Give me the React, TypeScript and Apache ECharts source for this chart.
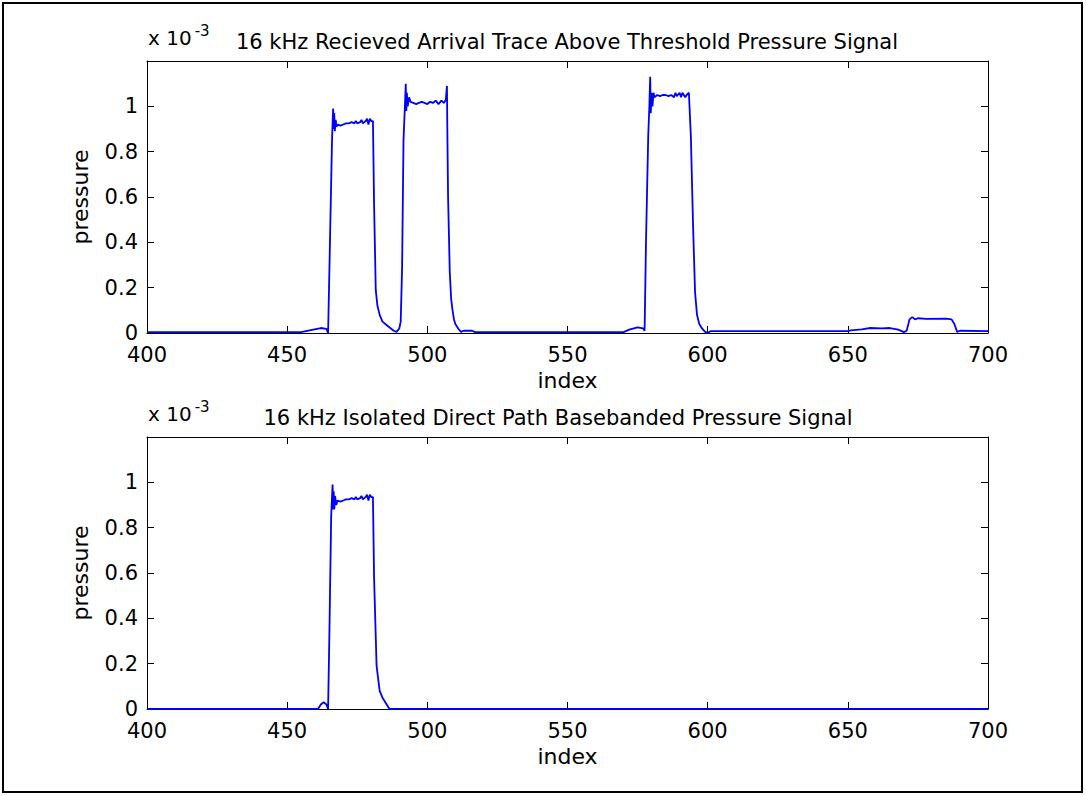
import React, { useEffect, useRef } from "react";
import * as echarts from "echarts";

const xTicks = [400, 450, 500, 550, 600, 650, 700];
const yTicks = [0, 0.2, 0.4, 0.6, 0.8, 1];

const topTitle = "16 kHz Recieved Arrival Trace Above Threshold Pressure Signal";
const bottomTitle = "16 kHz Isolated Direct Path Basebanded Pressure Signal";
const exponentBase = "x 10";
const exponentPower = "-3";

// pressure in units of 1e-3, sample index
const topIndex = [
  400, 455, 458, 462, 464, 464.6, 465.2, 466.0, 466.4, 466.6, 466.8, 467.0, 467.3, 467.6,
  468, 469, 470, 471, 472, 473, 474, 474.5, 475, 476, 476.5, 477, 478, 478.5, 479, 479.5, 480, 480.6,
  481.0, 481.6, 482.2, 483, 484, 485, 486, 487, 488, 489, 490, 490.5, 491.0, 491.5, 492.0, 492.3,
  492.5, 492.7, 493, 493.5, 494, 495, 496, 497, 498, 499, 500, 501, 502, 503, 504, 505, 506, 506.6,
  507.0, 507.1, 507.4, 508.0, 508.5, 509, 509.5, 510, 511, 512, 513, 516, 517,
  570, 572, 575, 577, 577.5, 578.0, 578.8, 579.2, 579.5, 579.7, 580, 580.3, 580.7, 581, 582, 583,
  584, 585, 586, 587, 588, 588.5, 589, 590, 590.5, 591, 592, 592.5, 593.3, 594.0, 594.8, 595.5,
  596.2, 597, 598, 599, 600, 601, 650, 651, 655, 658, 662, 665, 668, 670, 671, 672, 673, 674, 675,
  678, 685, 687, 688, 689, 690, 700,
];
const topPressure = [
  0.004, 0.004, 0.012, 0.022, 0.018, 0.0, 0.36, 0.85, 0.99, 0.9, 0.97, 0.89, 0.94, 0.91,
  0.92, 0.915, 0.92, 0.925, 0.925, 0.93, 0.925, 0.935, 0.925, 0.93, 0.94, 0.925, 0.935, 0.945, 0.92, 0.945, 0.935, 0.935,
  0.57, 0.19, 0.12, 0.08, 0.05, 0.04, 0.03, 0.02, 0.01, 0.005, 0.02, 0.05, 0.29, 0.85, 1.0, 1.1,
  0.98, 1.06, 1.0, 1.04, 1.02, 1.015, 1.01, 1.015, 1.02, 1.015, 1.01, 1.02, 1.015, 1.025, 1.01, 1.025, 1.015, 1.03,
  1.09, 0.94, 0.6, 0.27, 0.15, 0.1, 0.06, 0.04, 0.02, 0.005, 0.01, 0.01, 0.004,
  0.004, 0.015, 0.025, 0.02, 0.01, 0.4, 0.87, 1.0, 1.13, 0.97, 1.06, 1.0, 1.06, 1.04, 1.05, 1.045,
  1.05, 1.05, 1.045, 1.05, 1.04, 1.06, 1.045, 1.06, 1.04, 1.06, 1.04, 1.05, 1.06, 0.87, 0.47, 0.18,
  0.08, 0.04, 0.02, 0.006, 0.0, 0.008, 0.008, 0.012, 0.016, 0.022, 0.02, 0.022, 0.015, 0.004, 0.01, 0.06, 0.07, 0.06, 0.065,
  0.062, 0.063, 0.06, 0.04, 0.005, 0.01, 0.008,
];

const bottomIndex = [
  400, 461, 462, 463, 464, 464.6, 465.1, 465.7, 466.2, 466.4, 466.6, 466.8, 467.1, 467.5,
  468, 469, 470, 471, 472, 473, 474, 474.5, 475, 476, 476.5, 477, 478, 478.5, 479, 479.5, 480, 480.6,
  481.0, 481.9, 482.4, 483, 484, 485, 486.5, 700,
];
const bottomPressure = [
  0, 0, 0.02, 0.03, 0.02, 0, 0.36, 0.85, 0.99, 0.88, 0.96, 0.88, 0.94, 0.9,
  0.92, 0.915, 0.92, 0.925, 0.925, 0.93, 0.925, 0.935, 0.925, 0.93, 0.94, 0.925, 0.935, 0.945, 0.92, 0.945, 0.935, 0.935,
  0.58, 0.19, 0.14, 0.08, 0.05, 0.03, 0, 0,
];

const FONT = "DejaVu Sans";
const TICK_SIZE = 21;
const NAME_SIZE = 22;
const TITLE_SIZE = 21;

export default function App() {
  const ref = useRef<HTMLDivElement>(null);
  useEffect(() => {
    if (!ref.current) return;
    const chart = echarts.init(ref.current, null, { renderer: "svg" });
    const grids = [
      { left: 147, top: 61, width: 841, height: 272 },
      { left: 147, top: 437, width: 841, height: 272 },
    ];
    const xMin = xTicks[0];
    const xMax = xTicks[xTicks.length - 1];
    const xStep = xTicks[1] - xTicks[0];
    const yStep = yTicks[1] - yTicks[0];
    const yMax = 1.2;
    const lineStyle = { color: "#000", width: 1 };
    const xAxes: any[] = [];
    const yAxes: any[] = [];
    grids.forEach((_, g) => {
      xAxes.push({
        type: "value", gridIndex: g, position: "bottom", min: xMin, max: xMax, interval: xStep,
        axisLine: { show: true, lineStyle, onZero: false },
        axisTick: { show: true, inside: true, length: 7, lineStyle },
        axisLabel: { color: "#000", fontFamily: FONT, fontSize: TICK_SIZE, margin: 11, lineHeight: 21 },
        splitLine: { show: false },
        name: "index", nameLocation: "middle", nameGap: 36,
        nameTextStyle: { color: "#000", fontFamily: FONT, fontSize: NAME_SIZE },
      });
      xAxes.push({
        type: "value", gridIndex: g, position: "top", min: xMin, max: xMax, interval: xStep,
        axisLine: { show: true, lineStyle, onZero: false },
        axisTick: { show: true, inside: true, length: 7, lineStyle },
        axisLabel: { show: false }, splitLine: { show: false },
      });
      yAxes.push({
        type: "value", gridIndex: g, position: "left", min: 0, max: yMax, interval: yStep,
        axisLine: { show: true, lineStyle, onZero: false },
        axisTick: { show: true, inside: true, length: 7, lineStyle },
        axisLabel: {
          color: "#000", fontFamily: FONT, fontSize: TICK_SIZE, margin: 9, lineHeight: 14,
          formatter: (v: number) => (yTicks.some((t) => Math.abs(t - v) < 1e-9) ? String(+v.toFixed(1)) : ""),
        },
        splitLine: { show: false },
        name: "pressure", nameLocation: "middle", nameGap: 56, nameRotate: 90,
        nameTextStyle: { color: "#000", fontFamily: FONT, fontSize: NAME_SIZE },
      });
      yAxes.push({
        type: "value", gridIndex: g, position: "right", min: 0, max: yMax, interval: yStep,
        axisLine: { show: true, lineStyle, onZero: false },
        axisTick: { show: true, inside: true, length: 7, lineStyle },
        axisLabel: { show: false }, splitLine: { show: false },
      });
    });
    const mk = (xs: number[], ys: number[]) => xs.map((x, i) => [x, ys[i]]);
    const titleStyle = (text: string, x: number, y: number) => ({
      type: "text", x, y,
      style: { text, font: `${TITLE_SIZE}px "${FONT}"`, fill: "#000", textAlign: "center", textVerticalAlign: "bottom" },
    });
    const expo = (y: number) => ({
      type: "text", x: 148, y,
      style: {
        text: `{a|${exponentBase}}{b|${exponentPower}}`,
        textVerticalAlign: "bottom",
        rich: {
          a: { fontFamily: FONT, fontSize: 20, fill: "#000", color: "#000" },
          b: { fontFamily: FONT, fontSize: 15, fill: "#000", color: "#000", verticalAlign: "top", padding: [0, 0, 14, 3] },
        },
      },
    });
    chart.setOption({
      animation: false,
      backgroundColor: "#fff",
      grid: grids,
      xAxis: xAxes,
      yAxis: yAxes,
      series: [
        {
          type: "line", xAxisIndex: 0, yAxisIndex: 0, data: mk(topIndex, topPressure),
          showSymbol: false, lineStyle: { color: "#0000ff", width: 1.8 }, z: 1,
        },
        {
          type: "line", xAxisIndex: 2, yAxisIndex: 2, data: mk(bottomIndex, bottomPressure),
          showSymbol: false, lineStyle: { color: "#0000ff", width: 1.8 }, z: 1,
        },
      ],
      graphic: [
        { type: "rect", shape: { x: 3, y: 3, width: 1079, height: 789 }, style: { fill: "none", stroke: "#000", lineWidth: 2 } },
        titleStyle(topTitle, 567, 52),
        titleStyle(bottomTitle, 558, 428),
        expo(52),
        expo(428),
      ],
    });
    return () => chart.dispose();
  }, []);
  return <div ref={ref} style={{ position: "fixed", left: 0, top: 0, width: 1086, height: 796 }} />;
}
